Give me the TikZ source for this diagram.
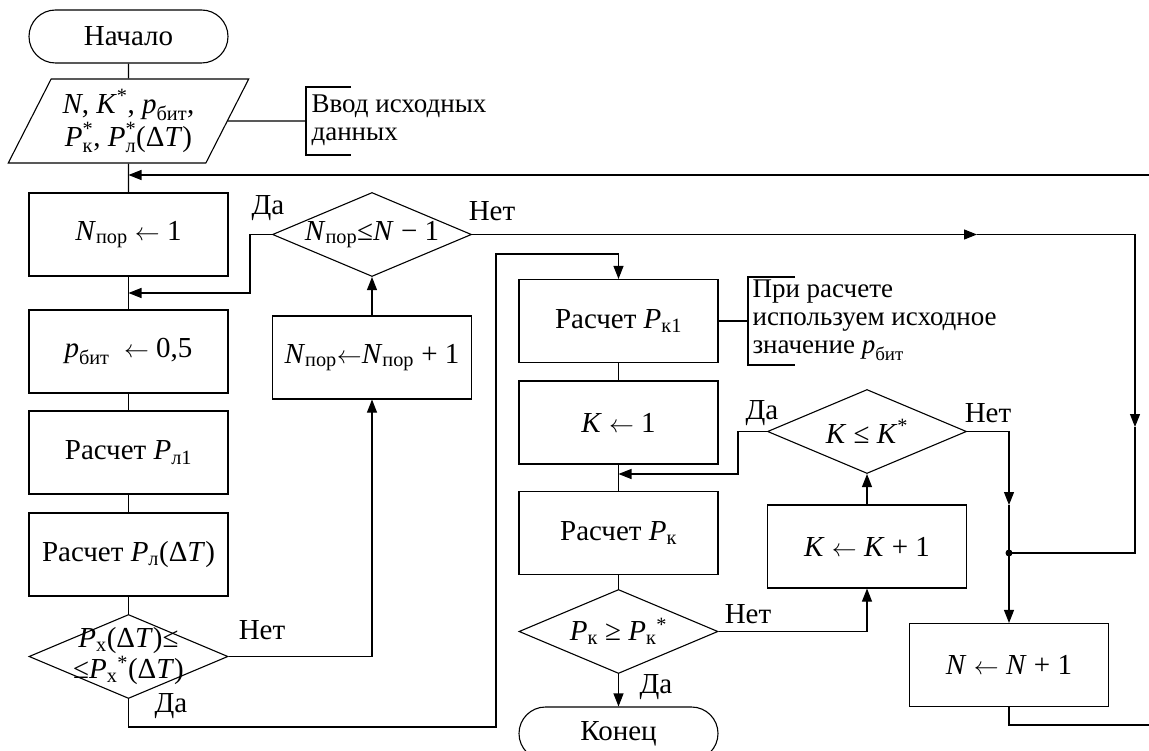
\documentclass[tikz,border=0pt]{standalone}
\usepackage{amsmath}
\usepackage{fontspec}
\setmainfont{Liberation Serif}
\usetikzlibrary{shapes.geometric, arrows.meta}

% переменные: курсив, нижний и верхний индексы
\newcommand{\iv}[1]{\textit{#1}}
\newcommand{\ivs}[2]{$\mbox{\textit{#1}}_{\text{#2}}$}
\newcommand{\ivst}[1]{$\mbox{\textit{#1}}^{\text{*}}$}
\newcommand{\ivss}[2]{$\mbox{\textit{#1}}^{\text{*}}_{\text{#2}}$}
\newcommand{\ivsa}[2]{$\mbox{\textit{#1}}_{\text{#2}}{}^{\text{*}}$}
\newcommand{\la}{$\leftarrow$}

\begin{document}
\begin{tikzpicture}[x=1pt, y=-1pt, line width=1.1pt,
  >={Triangle[length=13pt,width=10pt]},
  font={\fontsize{29}{30}\selectfont},
  block/.style={draw, rectangle, minimum width=199pt, minimum height=83pt, inner sep=0pt},
  decision/.style={draw, diamond, minimum width=199pt, minimum height=84pt, inner sep=0pt},
  terminal/.style={draw, rectangle, rounded corners=26.5pt, minimum width=199pt, minimum height=53pt, inner sep=0pt},
  io/.style={draw, trapezium, trapezium left angle=60, trapezium right angle=120,
    trapezium stretches=true, minimum width=241pt, minimum height=84pt, inner sep=0pt, align=center},
  note/.style={anchor=west, align=left, inner sep=0pt, font={\fontsize{27}{28}\selectfont}},
  lbl/.style={inner sep=0pt}]
  \useasboundingbox (0,0) rectangle (1149,751);

  % Начало и ввод исходных данных
  \node[terminal] (start) at (128.5,36.5) {Начало};
  \node[io] (input) at (128.5,121) {\iv{N}, \ivst{K}, \ivs{p}{бит},\\
    \ivss{P}{к}, \ivss{P}{л}(Δ\iv{T})};
  \node[note] (n1) at (311,120) {Ввод исходных\\данных};

  % левый столбец
  \node[block] (b1) at (128.5,234.5) {\ivs{N}{пор} \la\ 1};
  \node[block] (b2) at (128.5,351.5) {\ivs{p}{бит} \ \la\ 0,5};
  \node[block] (b3) at (128.5,452.5) {Расчет \ivs{P}{л1}};
  \node[block] (b4) at (128.5,554.5) {Расчет \ivs{P}{л}(Δ\iv{T})};
  \node[decision, label={[lbl, align=center, font={\fontsize{29}{31}\selectfont}]center:{\ivs{P}{х}(Δ\iv{T})≤\\
    ≤\ivsa{P}{х}(Δ\iv{T})}}] (d1) at (128.5,656.5) {};

  % цикл по N_пор
  \node[decision, label={[lbl]center:{\ivs{N}{пор}≤\iv{N} − 1}}] (d2) at (372,234.5) {};
  \node[block] (b5) at (372,357.5) {\ivs{N}{пор}\la\ivs{N}{пор} + 1};

  % средний столбец
  \node[block] (b6) at (618.5,321) {Расчет \ivs{P}{к1}};
  \node[note] (n2) at (752,320) {При расчете\\используем исходное\\значение \ivs{p}{бит}};
  \node[block] (b7) at (618.5,422.5) {\iv{K} \la\ 1};
  \node[block] (b8) at (618.5,533) {Расчет \ivs{P}{к}};
  \node[decision, label={[lbl]center:{\ivs{P}{к} ≥ \ivsa{P}{к}}}] (d4) at (618.5,631.5) {};
  \node[terminal] (end) at (618.5,733.5) {Конец};

  % цикл по K
  \node[decision, label={[lbl]center:{\iv{K} ≤ \ivst{K}}}] (d3) at (867,431.5) {};
  \node[block] (b9) at (867,546.5) {\iv{K} \la\ \iv{K} + 1};
  \node[block] (b10) at (1009,665) {\iv{N} \la\ \iv{N} + 1};

  % Да / Нет
  \node[lbl] (yes2) at (268,208) {Да};
  \node[lbl] (no2) at (492,211) {Нет};
  \node[lbl] (no1) at (262,630) {Нет};
  \node[lbl] (yes1) at (171,706) {Да};
  \node[lbl] (yes3) at (762,413) {Да};
  \node[lbl] (no3) at (988,413) {Нет};
  \node[lbl] (no4) at (748,614) {Нет};
  \node[lbl] (yes4) at (656,687) {Да};

  % точки излома линий
  \coordinate (back) at (1149,175);
  \coordinate (m1) at (128.5,175);
  \coordinate (m2) at (128.5,293);
  \coordinate (m3) at (618.5,474);
  \coordinate (r1) at (977,234.5);
  \coordinate (r2) at (1135,234.5);
  \coordinate (r3) at (1135,427);
  \coordinate (dot) at (1009,553);
  \coordinate (s2) at (1009,505);
  \coordinate (out) at (1149,725);
  \coordinate (t1) at (496,727);
  \coordinate (t2) at (496,254);

  % комментарии
  \draw (input.east) -- (306,121);
  \draw (351,87) -| (306,155) -- (351,155);
  \draw (b6.east) -- (748,321);
  \draw (795,277) -| (748,365) -- (795,365);

  % левый столбец
  \draw (start) -- (input);
  \draw (input) -- (b1);
  \draw[->] (back) -- (m1);
  \draw (b1) -- (b2);
  \draw[->] (d2.west) -- ++(-22,0) |- (m2);
  \draw (b2) -- (b3);
  \draw (b3) -- (b4);
  \draw (b4) -- (d1);
  \draw[->] (d1.east) -| (b5.south);
  \draw[->] (b5) -- (d2);

  % выход "Нет" из d2 и d3
  \draw[->] (d2.east) -- (r1);
  \draw[->] (r1) -- (r2) -- (r3);
  \draw (r3) |- (dot);
  \draw[->] (d3.east) -| (s2);
  \draw (s2) -- (dot);
  \draw[->] (dot) -- (b10.north);
  \fill (dot) circle (3.5);
  \draw (b10.south) |- (out);

  % "Да" из d1 к расчету P_к1
  \draw[->] (d1.south) |- (t1) -- (t2) -| (b6.north);

  % средний столбец
  \draw (b6) -- (b7);
  \draw (b7) -- (b8);
  \draw[->] (d3.west) -- ++(-29,0) |- (m3);
  \draw (b8) -- (d4);
  \draw[->] (d4.east) -| (b9.south);
  \draw[->] (b9) -- (d3);
  \draw[->] (d4) -- (end);
\end{tikzpicture}
\end{document}
